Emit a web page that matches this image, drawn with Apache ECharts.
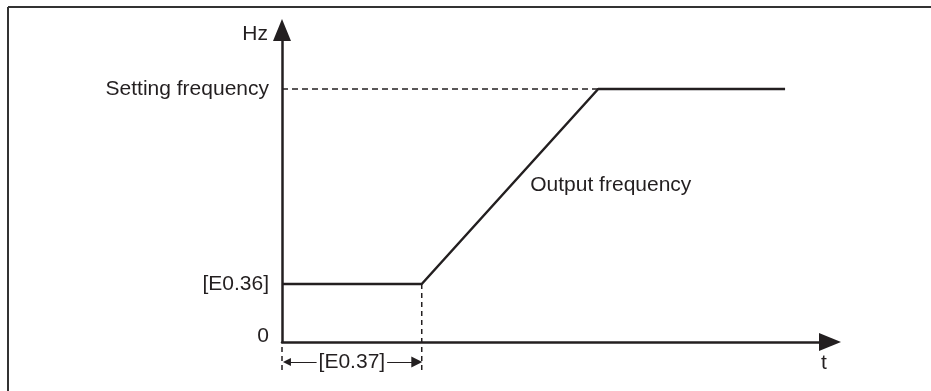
<!DOCTYPE html>
<html>
<head>
<meta charset="utf-8">
<style>
  html, body { margin: 0; padding: 0; background: #fff; }
  #main { width: 931px; height: 391px; }
</style>
<script src="https://cdn.jsdelivr.net/npm/echarts@6/dist/echarts.min.js"></script>
</head>
<body>
<div id="main"></div>
<script>
// output frequency curve (t on 0..100, Hz on 0..100)
var rampTime = [0, 25.5, 57.7, 91.8];
var rampFreq = [18.6, 18.6, 81.1, 81.1];

// y tick labels
var yTickValues = [0, 18.6, 81.1];
var yTickLabels = ['0', '[E0.36]', 'Setting frequency'];

// dashed guides
var settingGuideTime = [0, 57.7];
var settingGuideFreq = [81.1, 81.1];
var delayGuideTime = [25.5, 25.5];
var delayGuideFreq = [18.6, -10];
var originGuideTime = [0, 0];
var originGuideFreq = [-1.6, -10];

// [E0.37] span
var spanTime = [0.9, 24.6];
var spanFreq = -6.4;

var curveLabel = { name: 'Output frequency', time: 45.3, freq: 50.3 };

var ink = '#231f20';
var font = "'Liberation Sans', Arial, sans-serif";

function pairs(xs, ys) {
	var out = [];
	for (var i = 0; i < xs.length; i++) {
		out.push([xs[i], ys[i]]);
	}
	return out;
}

var myChart = echarts.init(document.getElementById('main'));
var option = {
	backgroundColor: '#fff',
	animation: false,
	grid: {
		left: 282, right: 101, top: 30, bottom: 49,
		containLabel: false,
		outerBoundsMode: 'none'
	},
	xAxis: {
		type: 'value',
		min: 0, max: 100,
		name: 't',
		nameLocation: 'end',
		nameGap: -6,
		nameTextStyle: {
			fontFamily: font, fontSize: 21, color: ink,
			align: 'center', verticalAlign: 'top',
			padding: [11, 0, 0, 0]
		},
		axisLine: {
			lineStyle: { color: ink, width: 2.5 },
			symbol: ['none', 'triangle'],
			symbolSize: [18, 22]
		},
		axisTick: { show: false },
		axisLabel: { show: false },
		splitLine: { show: false }
	},
	yAxis: {
		type: 'value',
		min: 0, max: 100,
		name: 'Hz',
		nameLocation: 'end',
		nameGap: -4,
		nameTextStyle: {
			fontFamily: font, fontSize: 21, color: ink,
			align: 'right', verticalAlign: 'middle',
			padding: [0, 14, 0, 0]
		},
		axisLine: {
			lineStyle: { color: ink, width: 2.5 },
			symbol: ['none', 'triangle'],
			symbolSize: [18, 22]
		},
		axisTick: { show: false },
		splitLine: { show: false },
		axisLabel: {
			customValues: yTickValues,
			margin: 13,
			fontFamily: font, fontSize: 21, color: ink,
			formatter: function (value) {
				var idx = yTickValues.indexOf(value);
				var txt = idx >= 0 ? yTickLabels[idx] : '';
				return value === 0 ? '{z|' + txt + '}' : txt;
			},
			rich: {
				z: { fontFamily: font, fontSize: 21, color: ink, padding: [0, 0, 12, 0] }
			}
		}
	},
	graphic: [
		{ type: 'line', shape: { x1: 8, y1: 7, x2: 931, y2: 7 }, style: { stroke: '#333', lineWidth: 2 } },
		{ type: 'line', shape: { x1: 8, y1: 7, x2: 8, y2: 391 }, style: { stroke: '#333', lineWidth: 2 } }
	],
	series: [
		{
			type: 'line',
			data: pairs(settingGuideTime, settingGuideFreq),
			symbol: 'none',
			clip: false,
			lineStyle: { color: ink, width: 1.5, type: [6, 4] },
			z: 2
		},
		{
			type: 'line',
			data: pairs(delayGuideTime, delayGuideFreq),
			symbol: 'none',
			clip: false,
			lineStyle: { color: ink, width: 1.5, type: [5, 4] },
			z: 2
		},
		{
			type: 'line',
			data: pairs(originGuideTime, originGuideFreq),
			symbol: 'none',
			clip: false,
			lineStyle: { color: ink, width: 1.5, type: [5, 4] },
			z: 2
		},
		{
			type: 'line',
			data: pairs(rampTime, rampFreq),
			symbol: 'none',
			lineStyle: { color: ink, width: 2.5 },
			z: 5,
			markPoint: {
				symbol: 'circle',
				symbolSize: 0,
				label: {
					show: true,
					position: 'right',
					distance: 0,
					formatter: '{b}',
					fontFamily: font, fontSize: 21, color: ink
				},
				data: [{ name: curveLabel.name, coord: [curveLabel.time, curveLabel.freq] }]
			}
		},
		{
			type: 'lines',
			coordinateSystem: 'cartesian2d',
			clip: false,
			symbol: ['triangle', 'triangle'],
			symbolSize: [8, 11],
			lineStyle: { color: ink, width: 1, opacity: 1 },
			itemStyle: { color: ink },
			label: {
				show: true,
				position: 'middle',
				distance: 0,
				align: 'center',
				verticalAlign: 'middle',
				formatter: '[E0.37]',
				fontFamily: font, fontSize: 21, color: ink,
				backgroundColor: '#fff',
				padding: [0, 2]
			},
			data: [{ coords: [[spanTime[0], spanFreq], [spanTime[1], spanFreq]] }]
		}
	]
};
myChart.setOption(option);
</script>
</body>
</html>
